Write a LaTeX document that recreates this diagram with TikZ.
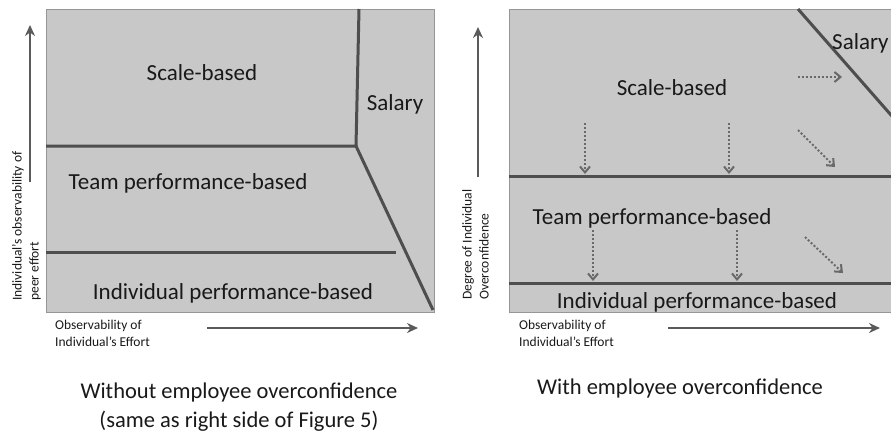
\documentclass[tikz,border=0pt]{standalone}
\usepackage{fontspec}
\setmainfont{Carlito}
\usepackage{tikz}
\usetikzlibrary{arrows.meta}
\definecolor{boxgray}{RGB}{200,200,200}
\definecolor{framegray}{RGB}{150,150,150}
\definecolor{linegray}{RGB}{78,78,78}
\definecolor{axisgray}{RGB}{90,90,90}
\definecolor{dotgray}{RGB}{105,105,105}
\definecolor{textgray}{RGB}{25,25,25}

\begin{document}
\begin{tikzpicture}[x=1pt,y=-1pt,
region/.style={fill=boxgray,draw=framegray,line width=1pt},
border/.style={draw=linegray,line width=3pt},
axis/.style={draw=axisgray,line width=2.6pt,-{Stealth[length=11pt,width=10pt]}},
drift/.style={draw=dotgray,line width=2pt,dotted,-{Straight Barb[length=6pt,width=10pt]}},
big/.style={font=\fontsize{23}{27}\selectfont,text=textgray,inner sep=0pt},
small/.style={font=\fontsize{13.5}{17}\selectfont,text=textgray,align=left,inner sep=0pt},
caption/.style={font=\fontsize{22.5}{29}\selectfont,text=textgray,align=center,inner sep=0pt}]
\useasboundingbox (0,0) rectangle (891,432);
\clip (0,0) rectangle (891,432);

\filldraw [region] (46,9) rectangle (434,312);
\draw [border] (46,146)--(356,146)--(359,9);
\draw [border] (356,146)--(433,310);
\draw [border] (46,252)--(396,252);
\node [big] (scaleL) at (202,73) {Scale-based};
\node [big] (salaryL) at (395,104) {Salary};
\node [big] (teamL) at (188,183) {Team performance-based};
\node [big] (indivL) at (233,293) {Individual performance-based};

\filldraw [region] (509,9) rectangle (910,312);
\draw [border] (509,176)--(910,176);
\draw [border] (509,283)--(910,283);
\draw [border] (798,9)--(905,131);
\node [big] (scaleR) at (672,88) {Scale-based};
\node [big,anchor=west] (salaryR) at (832,43) {Salary};
\node [big] (teamR) at (652,218) {Team performance-based};
\node [big] (indivR) at (697,302) {Individual performance-based};

\coordinate (sa) at (798,77);
\coordinate (sb) at (842,77);
\coordinate (va) at (585,123);
\coordinate (vb) at (585,174);
\coordinate (vc) at (729,123);
\coordinate (vd) at (729,174);
\coordinate (da) at (798,130);
\coordinate (db) at (835,167);
\coordinate (ve) at (593,230);
\coordinate (vf) at (593,281);
\coordinate (vg) at (737,230);
\coordinate (vh) at (737,281);
\coordinate (dc) at (805,237);
\coordinate (dd) at (843,273);
\draw [drift] (sa)--(sb);
\draw [drift] (va)--(vb);
\draw [drift] (vc)--(vd);
\draw [drift] (da)--(db);
\draw [drift] (ve)--(vf);
\draw [drift] (vg)--(vh);
\draw [drift] (dc)--(dd);

\coordinate (yL0) at (30,182);
\coordinate (yL1) at (30,25);
\coordinate (xL0) at (207,328);
\coordinate (xL1) at (418,328);
\draw [axis] (yL0)--(yL1);
\draw [axis] (xL0)--(xL1);
\node [small,rotate=90,anchor=north west] (ylabL) at (12,301) {Individual's observability of\\peer effort};
\node [small,anchor=north west] (xlabL) at (55,320) {Observability of\\Individual's Effort};

\coordinate (yR0) at (478,177);
\coordinate (yR1) at (478,27);
\coordinate (xR0) at (668,328);
\coordinate (xR1) at (880,328);
\draw [axis] (yR0)--(yR1);
\draw [axis] (xR0)--(xR1);
\node [small,rotate=90,anchor=north west] (ylabR) at (462,300) {Degree of Individual\\Overconfidence};
\node [small,anchor=north west] (xlabR) at (519,320) {Observability of\\Individual's Effort};

\node [caption] (capL) at (239,407) {Without employee overconfidence\\(same as right side of Figure 5)};
\node [caption] (capR) at (680,388) {With employee overconfidence};
\end{tikzpicture}
\end{document}
